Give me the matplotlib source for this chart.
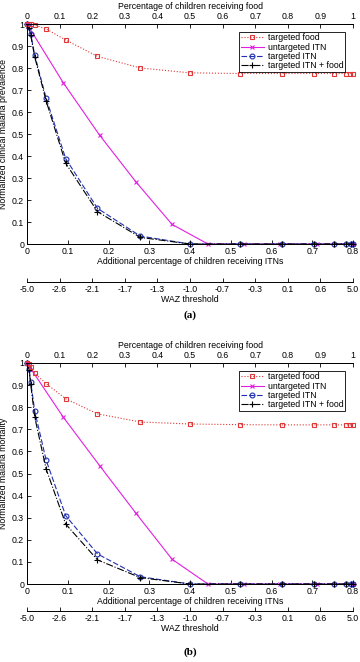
import numpy as np
import matplotlib
matplotlib.use("Agg")
import matplotlib.pyplot as plt
from matplotlib.ticker import FormatStrFormatter

plt.rcParams['font.family'] = ['Liberation Sans', 'DejaVu Sans']
FS = 6.3

# x positions (coverage) of the scenarios
food_cov = [0, 0.006, 0.011, 0.024, 0.059, 0.119, 0.216, 0.348, 0.5, 0.652, 0.783, 0.88, 0.941, 0.977, 0.992, 1.0]
itn_targeted_cov = [0, 0.005, 0.009, 0.019, 0.047, 0.095, 0.173, 0.278, 0.4, 0.522, 0.626, 0.704, 0.753, 0.782, 0.794, 0.8]
itn_untargeted_cov = [0, 0.089, 0.178, 0.267, 0.356, 0.444, 0.533, 0.622, 0.711, 0.8]

# (a) clinical malaria prevalence
food_prev = [1.0, 1.0, 0.998, 0.995, 0.977, 0.927, 0.853, 0.800, 0.778, 0.775, 0.775, 0.775, 0.775, 0.775, 0.775, 0.775]
untargeted_prev = [1.0, 0.733, 0.495, 0.283, 0.089, 0, 0, 0, 0, 0]
targeted_prev = [1.0, 0.985, 0.955, 0.858, 0.662, 0.388, 0.162, 0.036, 0, 0, 0, 0, 0, 0, 0, 0]
combined_prev = [1.0, 0.98, 0.95, 0.85, 0.65, 0.367, 0.147, 0.030, 0, 0, 0, 0, 0, 0, 0, 0]

# (b) malaria mortality
food_mort = [1.0, 0.995, 0.980, 0.953, 0.906, 0.838, 0.770, 0.733, 0.724, 0.721, 0.720, 0.720, 0.720, 0.720, 0.720, 0.720]
untargeted_mort = [1.0, 0.755, 0.536, 0.321, 0.112, 0, 0, 0, 0, 0]
targeted_mort = [1.0, 0.975, 0.915, 0.782, 0.560, 0.309, 0.136, 0.033, 0, 0, 0, 0, 0, 0, 0, 0]
combined_mort = [1.0, 0.97, 0.905, 0.755, 0.520, 0.271, 0.109, 0.029, 0, 0, 0, 0, 0, 0, 0, 0]

waz_labels = ['-5.0', '-2.6', '-2.1', '-1.7', '-1.3', '-1.0', '-0.7', '-0.3', '0.1', '0.6', '5.0']

W, H = 360, 662
fig = plt.figure(figsize=(W / 100, H / 100), dpi=100)


def px(x0, y_top, w, h):
    return [x0 / W, 1 - (y_top + h) / H, w / W, h / H]


def panel(y_top, y_bot, waz_y, tag_y, tag, ylabel, food, untarg, targ, comb):
    ax = fig.add_axes(px(27, y_top, 326, y_bot - y_top))
    l2, = ax.plot(itn_untargeted_cov, untarg, color='#e020e0', marker='x', ms=3.5,
                  lw=0.8, mew=0.8, clip_on=False, label='untargeted ITN')
    l3, = ax.plot(itn_targeted_cov, targ, color='#2030b0', ls=(0, (5, 2)), marker='o',
                  mfc='none', ms=3.5, lw=0.8, mew=0.8, clip_on=False, label='targeted ITN')
    l4, = ax.plot(itn_targeted_cov, comb, color='black', ls='-.', marker='+', ms=4.5,
                  lw=0.8, mew=0.8, clip_on=False, label='targeted ITN + food')
    ax.set_xlim(0, 0.8)
    ax.set_ylim(0, 1)
    ax.set_xticks(np.arange(0, 0.81, 0.1))
    ax.set_yticks(np.arange(0, 1.01, 0.1))
    ax.xaxis.set_major_formatter(FormatStrFormatter('%g'))
    ax.yaxis.set_major_formatter(FormatStrFormatter('%g'))
    ax.tick_params(direction='in', length=3, width=0.6, labelsize=FS, pad=2)
    ax.set_xlabel('Additional percentage of children receiving ITNs', fontsize=FS, labelpad=1)
    ax.set_ylabel(ylabel, fontsize=FS, labelpad=3)

    axt = ax.twiny()
    l1, = axt.plot(food_cov, food, color='#e03838', ls=':', marker='s', mfc='none',
                   ms=3, lw=0.8, mew=0.8, clip_on=False, label='targeted food')
    axt.set_xlim(0, 1)
    axt.set_xticks(np.arange(0, 1.01, 0.1))
    axt.xaxis.set_major_formatter(FormatStrFormatter('%g'))
    axt.tick_params(direction='in', length=3, width=0.6, labelsize=FS, pad=2)
    axt.set_xlabel('Percentage of children receiving food', fontsize=FS, labelpad=2)
    for a in (ax, axt):
        a.spines['right'].set_visible(False)
        for s in a.spines.values():
            s.set_linewidth(0.7)
    leg = axt.legend(handles=[l1, l2, l3, l4], loc='upper right', fontsize=FS,
                     fancybox=False, edgecolor='black', framealpha=1,
                     borderpad=0.2, handlelength=2.6, handletextpad=0.5,
                     labelspacing=0.02, bbox_to_anchor=(0.99, 0.985))
    leg.get_frame().set_linewidth(0.6)

    wax = fig.add_axes(px(27, waz_y - 1, 326, 1))
    wax.patch.set_visible(False)
    for k in ('left', 'right', 'top'):
        wax.spines[k].set_visible(False)
    wax.spines['bottom'].set_linewidth(0.7)
    wax.set_xlim(0, 0.8)
    wax.set_xticks(np.linspace(0, 0.8, len(waz_labels)))
    wax.set_xticklabels(waz_labels)
    wax.set_yticks([])
    wax.tick_params(direction='in', length=3, width=0.6, labelsize=FS, pad=2)
    wax.set_xlabel('WAZ threshold', fontsize=FS, labelpad=1)

    fig.text(190 / W, 1 - tag_y / H, tag, ha='center', va='center',
             family='Liberation Serif', weight='bold', fontsize=8)


panel(24, 244, 282, 315, '(a)', 'Normalized clinical malaria prevalence',
      food_prev, untargeted_prev, targeted_prev, combined_prev)
panel(363, 584, 611, 652, '(b)', 'Normalized malaria mortality',
      food_mort, untargeted_mort, targeted_mort, combined_mort)

fig.savefig('out.png', dpi=100)
